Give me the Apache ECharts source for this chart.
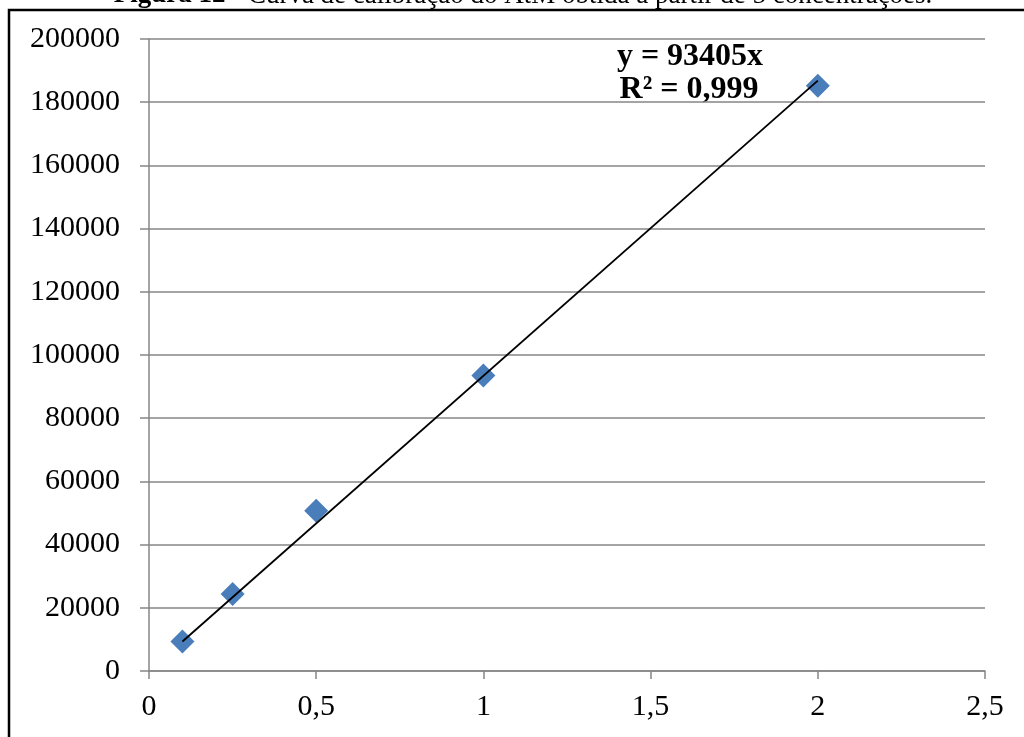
<!DOCTYPE html>
<html><head><meta charset="utf-8">
<script src="https://cdn.jsdelivr.net/npm/echarts@6/dist/echarts.min.js"></script>
<style>html,body{margin:0;padding:0;background:#fff}#c{width:1024px;height:737px}</style>
</head><body><div id="c"></div>
<script>
const concentrations = [0.1, 0.25, 0.5, 1, 2];
const areas = [9300, 24400, 50700, 93500, 185200];
const trendX = [0.1, 2];
const trendY = [9340.5, 186810];
const titleBold = 'Figura 12';
const titleRest = ' - Curva de calibração do AtM obtida a partir de 5 concentrações.';
const eqLine1 = 'y = 93405x';
const eqLine2 = 'R² = 0,999';

const serif = '"Liberation Serif","Times New Roman",serif';
const chart = echarts.init(document.getElementById('c'), null, {renderer: 'canvas'});
const fmt = v => String(v).replace('.', ',');
chart.setOption({
  animation: false,
  backgroundColor: '#fff',
  grid: {left: 149, right: 39, top: 39, bottom: 66},
  xAxis: {
    type: 'value', min: 0, max: 2.5, interval: 0.5,
    axisLine: {show: true, lineStyle: {color: '#868686', width: 1.5}},
    axisTick: {show: true, length: 8, lineStyle: {color: '#868686', width: 1.5}},
    splitLine: {show: false},
    axisLabel: {color: '#000', fontFamily: serif, fontSize: 30, margin: 21, formatter: fmt}
  },
  yAxis: {
    type: 'value', min: 0, max: 200000, interval: 20000,
    axisLine: {show: true, lineStyle: {color: '#868686', width: 1.5}},
    axisTick: {show: true, length: 9, lineStyle: {color: '#868686', width: 1.5}},
    splitLine: {show: true, lineStyle: {color: '#868686', width: 1.5}},
    axisLabel: {color: '#000', fontFamily: serif, fontSize: 30, margin: 29, formatter: v => String(v)}
  },
  series: [
    {
      type: 'scatter', z: 2,
      data: concentrations.map((c, i) => [c, areas[i]]),
      symbol: 'diamond', symbolSize: 24,
      itemStyle: {color: '#4A7EBB', opacity: 1}
    },
    {
      type: 'line', z: 3, showSymbol: false, symbol: 'none',
      data: trendX.map((x, i) => [x, trendY[i]]),
      lineStyle: {color: '#000', width: 1.8}
    }
  ],
  graphic: [
    {type: 'rect', shape: {x: 9, y: 10, width: 1040, height: 760},
     style: {fill: 'none', stroke: '#000', lineWidth: 2.5}, silent: true},
    {type: 'text', x: 523, y: 9,
     style: {text: '{b|' + titleBold + '}{n|' + titleRest + '}', align: 'center', verticalAlign: 'bottom',
       rich: {b: {fontFamily: serif, fontSize: 27, fontWeight: 'bold', fill: '#000'},
              n: {fontFamily: serif, fontSize: 27, fill: '#000'}}}},
    {type: 'text', x: 690, y: 57,
     style: {text: eqLine1, align: 'center', verticalAlign: 'middle', fontFamily: serif, fontSize: 32, fontWeight: 'bold', fill: '#000'}},
    {type: 'text', x: 689, y: 90,
     style: {text: eqLine2, align: 'center', verticalAlign: 'middle', fontFamily: serif, fontSize: 32, fontWeight: 'bold', fill: '#000'}}
  ]
});
</script></body></html>
